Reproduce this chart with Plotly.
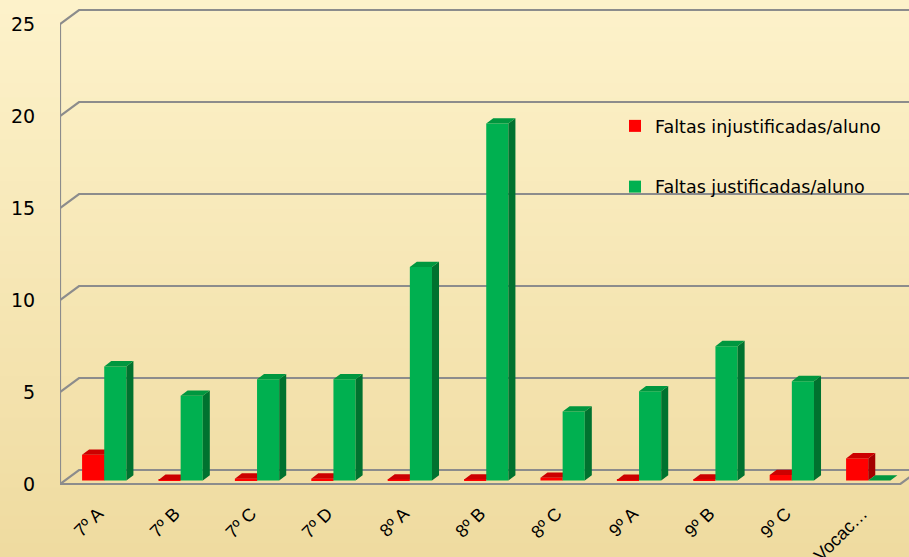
import plotly.graph_objects as go

categories = ["7º A", "7º B", "7º C", "7º D", "8º A", "8º B", "8º C", "9º A", "9º B", "9º C", "Vocac…"]
injustificadas = [1.4, 0.03, 0.1, 0.1, 0.05, 0.05, 0.15, 0.03, 0.05, 0.3, 1.2]
justificadas = [6.2, 4.6, 5.5, 5.5, 11.6, 19.4, 3.75, 4.85, 7.3, 5.4, 0.0]
y_ticks = [0, 5, 10, 15, 20, 25]
series_names = ["Faltas injustificadas/aluno", "Faltas justificadas/aluno"]

# geometry (data units)
WALL_DX, WALL_DY = 0.249, 0.76      # depth of the 3D box
BAR_SHIFT, BAR_BASE = 0.079, 0.19   # bars sit a little back in the box
BAR_W = 0.29
BAR_DX, BAR_DY = 0.092, 0.29        # depth of each bar
X0, X1 = -0.5, len(categories) - 0.5

RED, RED_TOP, RED_SIDE = "#FF0000", "#CC0000", "#A30000"
GRN, GRN_TOP, GRN_SIDE = "#00B050", "#00973F", "#00722F"
GRID = "#8C8C8C"
FONT = "DejaVu Sans, Verdana, sans-serif"
TICK_FONT = "Liberation Sans, Arial, sans-serif"

fig = go.Figure()

# back wall gridlines + left wall + floor
gx, gy = [], []
for v in y_ticks:
    gx += [X0, X0 + WALL_DX, X1 + 2, None]
    gy += [v, v + WALL_DY, v + WALL_DY, None]
gx += [X0, X0, None, X0, X1, X1 + WALL_DX, None]
gy += [0, y_ticks[-1], None, 0, 0, WALL_DY, None]
fig.add_trace(go.Scatter(x=gx, y=gy, mode="lines", line=dict(color=GRID, width=2.2),
                         hoverinfo="skip", showlegend=False, zorder=0))


def add_series(vals, name, off, c_front, c_top, c_side, z):
    xs = [i + BAR_SHIFT for i in range(len(vals))]
    fig.add_trace(go.Bar(x=xs, y=vals, base=BAR_BASE, width=BAR_W, offset=off,
                         marker=dict(color=c_front, line=dict(width=0)), name=name,
                         legendgroup=name, zorder=z))
    tx, ty, sx, sy = [], [], [], []
    for x, v in zip(xs, vals):
        l, r = x + off, x + off + BAR_W
        b, t = BAR_BASE, BAR_BASE + v
        tx += [l, r, r + BAR_DX, l + BAR_DX, l, None]
        ty += [t, t, t + BAR_DY, t + BAR_DY, t, None]
        sx += [r, r + BAR_DX, r + BAR_DX, r, r, None]
        sy += [b, b + BAR_DY, t + BAR_DY, t, b, None]
    fig.add_trace(go.Scatter(x=sx, y=sy, mode="lines", fill="toself", fillcolor=c_side,
                             line=dict(width=0, color=c_side), hoverinfo="skip",
                             showlegend=False, zorder=z))
    fig.add_trace(go.Scatter(x=tx, y=ty, mode="lines", fill="toself", fillcolor=c_top,
                             line=dict(width=0, color=c_top), hoverinfo="skip",
                             showlegend=False, zorder=z))


add_series(injustificadas, series_names[0], -BAR_W, RED, RED_TOP, RED_SIDE, 1)
add_series(justificadas, series_names[1], 0.0, GRN, GRN_TOP, GRN_SIDE, 2)

# background gradient (vertical)
shapes = []
N = 40
top_c = (253, 242, 202)
bot_c = (239, 219, 160)
H = 557
for k in range(N):
    f = k / (N - 1)
    c = tuple(int(round(top_c[j] + (bot_c[j] - top_c[j]) * f)) for j in range(3))
    p0, p1 = k * H / N, (k + 1) * H / N + 1
    shapes.append(dict(type="rect", xref="paper", yref="paper", x0=-0.2, x1=1.2,
                       y0=(490 - p1) / 485, y1=(490 - p0) / 485,
                       fillcolor="rgb(%d,%d,%d)" % c, line=dict(width=0), layer="below"))

fig.update_layout(
    width=909, height=557,
    margin=dict(l=60, r=0, t=5, b=67, autoexpand=False),
    paper_bgcolor="#F6E7B5", plot_bgcolor="rgba(0,0,0,0)",
    barmode="overlay",
    shapes=shapes,
    font=dict(family=FONT, color="#000000"),
    xaxis=dict(range=[X0, X0 + 849 / 76.4], tickvals=list(range(len(categories))),
               ticktext=categories, tickangle=-45, showgrid=False, zeroline=False,
               showline=False, ticks="outside", ticklen=5, tickcolor="rgba(0,0,0,0)",
               tickfont=dict(size=18, family=TICK_FONT), automargin=False),
    yaxis=dict(range=[(484 - 490) / 18.4, (484 - 5) / 18.4], tickvals=y_ticks,
               showgrid=False, zeroline=False, showline=False, ticks="outside",
               ticklen=20, tickcolor="rgba(0,0,0,0)", tickfont=dict(size=19), automargin=False),
    legend=dict(x=(615 - 60) / 849, y=(490 - 108) / 485, xanchor="left", yanchor="top",
                bgcolor="rgba(0,0,0,0)", font=dict(size=17.5), tracegroupgap=35,
                itemwidth=30),
    showlegend=True,
)

fig.write_html("out.html", config={"displayModeBar": False},
               post_script="document.body.style.margin='0';document.body.style.overflow='hidden';")
